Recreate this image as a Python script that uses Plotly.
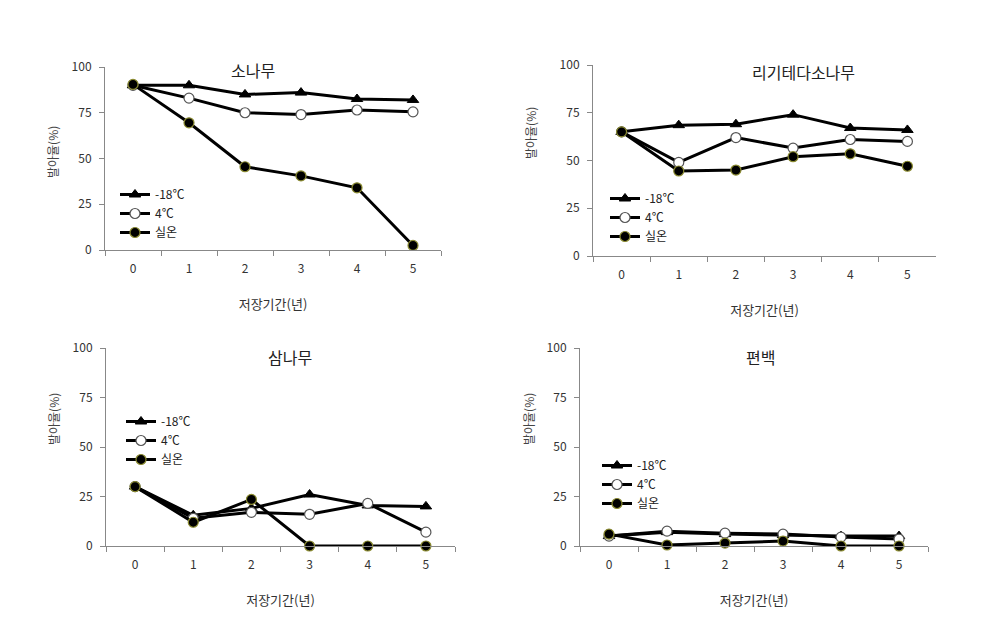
import plotly.graph_objects as go

years = ["0", "1", "2", "3", "4", "5"]
series_names = ["-18℃", "4℃", "실온"]
panel_titles = ["소나무", "리기테다소나무", "삼나무", "편백"]
y_ticks = [0, 25, 50, 75, 100]
x_title = "저장기간(년)"
y_title = "발아율(%)"

# 소나무
pine_m18 = [90, 90, 85, 86, 82.5, 82]
pine_4 = [90, 83, 75, 74, 76.5, 75.5]
pine_room = [90.5, 69.5, 45.5, 40.5, 34, 2.5]
# 리기테다소나무
rigi_m18 = [65, 68.5, 69, 74, 67, 66]
rigi_4 = [65, 49, 62, 56.5, 61, 60]
rigi_room = [65, 44.5, 45, 52, 53.5, 47]
# 삼나무
cedar_m18 = [30, 15.5, 19, 26, 20.5, 20]
cedar_4 = [30, 14, 17, 16, 21.5, 7]
cedar_room = [30, 12, 23.5, 0, 0, 0]
# 편백
cypress_m18 = [5, 7, 6, 5.5, 5, 5]
cypress_4 = [5, 7.5, 6.5, 6, 4.5, 3.5]
cypress_room = [6, 0.5, 1.5, 2.5, 0, 0]

panels = [
    (pine_m18, pine_4, pine_room),
    (rigi_m18, rigi_4, rigi_room),
    (cedar_m18, cedar_4, cedar_room),
    (cypress_m18, cypress_4, cypress_room),
]

W, H = 989, 632
# plot areas in pixels: (x0, x1, ytop, ybottom)
boxes = [(105, 441, 67, 250), (593, 936, 65, 256), (106, 455, 348, 546), (580, 928, 348, 546)]
title_pos = [(253, 70), (803, 72), (290, 357), (760, 357)]
ytitle_pos = [(53, 152), (530, 133), (53, 419), (528, 419)]
legend_pos = [(115, 180), (605, 184), (121, 407), (597, 451)]

FONT = "Noto Sans CJK KR"
marker_styles = [
    dict(symbol="triangle-up", size=10, color="#000000", line=dict(color="#000000", width=1)),
    dict(symbol="circle", size=10, color="#ffffff", line=dict(color="#555555", width=1.2)),
    dict(symbol="circle", size=10, color="#000000", line=dict(color="#8a8a30", width=1.2)),
]

fig = go.Figure()
layout = {}
for i, (data, box, tp, yp, lp) in enumerate(zip(panels, boxes, title_pos, ytitle_pos, legend_pos)):
    n = "" if i == 0 else str(i + 1)
    xa, ya = "x" + n, "y" + n
    lg = "legend" + n
    for vals, name, ms in zip(data, series_names, marker_styles):
        fig.add_trace(go.Scatter(
            x=years, y=vals, name=name, mode="lines+markers",
            line=dict(color="#000000", width=3), marker=ms,
            xaxis=xa, yaxis=ya, legend=lg, cliponaxis=False,
        ))
    x0, x1, yt, yb = box
    layout["xaxis" + n] = dict(
        domain=[x0 / W, x1 / W], anchor=ya, type="category", automargin=False,
        range=[-0.5, 5.5], tickson="boundaries", ticks="outside", ticklen=5,
        tickcolor="#888888", showline=True, linecolor="#888888", linewidth=1,
        showgrid=False, zeroline=False, ticklabelstandoff=8,
        tickfont=dict(family=FONT, size=12, color="#333333"),
        title=dict(text=x_title, font=dict(family=FONT, size=13, color="#333333"), standoff=24),
    )
    layout["yaxis" + n] = dict(
        domain=[1 - yb / H, 1 - yt / H], anchor=xa, range=[0, 100], automargin=False,
        tickvals=y_ticks, ticks="outside", ticklen=5, tickcolor="#888888",
        showline=True, linecolor="#888888", linewidth=1, showgrid=False, zeroline=False,
        ticklabelstandoff=5,
        tickfont=dict(family=FONT, size=12, color="#333333"),
    )
    layout[lg] = dict(
        x=lp[0] / W, y=1 - lp[1] / H, xanchor="left", yanchor="top",
        bgcolor="rgba(0,0,0,0)", font=dict(family=FONT, size=12, color="#222222"),
        tracegroupgap=0, itemwidth=30,
    )
    fig.add_annotation(
        text=panel_titles[i], x=tp[0] / W, y=1 - tp[1] / H, xref="paper", yref="paper",
        showarrow=False, xanchor="center", yanchor="middle",
        font=dict(family=FONT, size=16, color="#222222"),
    )
    fig.add_annotation(
        text=y_title, x=yp[0] / W, y=1 - yp[1] / H, xref="paper", yref="paper",
        showarrow=False, xanchor="center", yanchor="middle", textangle=-90,
        font=dict(family=FONT, size=12, color="#444444"),
    )

fig.update_layout(
    width=W, height=H, margin=dict(l=0, r=0, t=0, b=0, autoexpand=False),
    paper_bgcolor="white", plot_bgcolor="white", showlegend=True,
    **layout,
)
fig.write_html(
    "out.html",
    config={"displayModeBar": False},
    post_script="document.body.style.margin='0';document.body.style.overflow='hidden';",
)
